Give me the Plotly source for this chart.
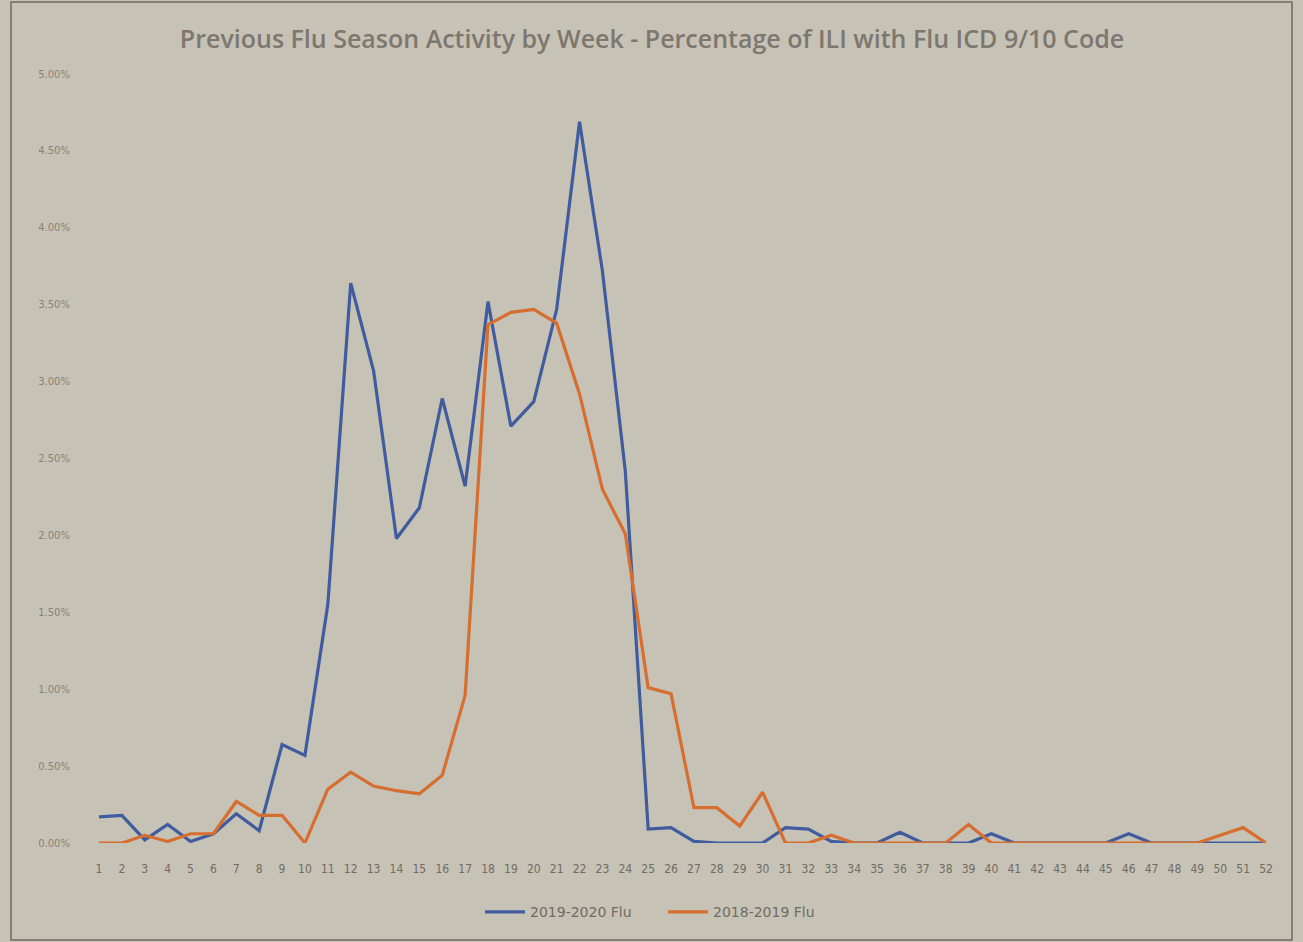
import plotly.graph_objects as go

weeks = list(range(1, 53))
week_labels = [str(w) for w in weeks]

flu_2019_2020 = [0.17, 0.18, 0.02, 0.12, 0.01, 0.06, 0.19, 0.08, 0.64, 0.57,
                 1.55, 3.64, 3.07, 1.98, 2.18, 2.89, 2.32, 3.52, 2.71, 2.87,
                 3.47, 4.69, 3.72, 2.42, 0.09, 0.10, 0.01, 0.0, 0.0, 0.0,
                 0.10, 0.09, 0.01, 0.0, 0.0, 0.07, 0.0, 0.0, 0.0, 0.06,
                 0.0, 0.0, 0.0, 0.0, 0.0, 0.06, 0.0, 0.0, 0.0, 0.0, 0.0, 0.0]

flu_2018_2019 = [0.0, 0.0, 0.05, 0.01, 0.06, 0.06, 0.27, 0.18, 0.18, 0.0,
                 0.35, 0.46, 0.37, 0.34, 0.32, 0.44, 0.96, 3.37, 3.45, 3.47,
                 3.38, 2.92, 2.30, 2.01, 1.01, 0.97, 0.23, 0.23, 0.11, 0.33,
                 0.0, 0.0, 0.05, 0.0, 0.0, 0.0, 0.0, 0.0, 0.12, 0.0,
                 0.0, 0.0, 0.0, 0.0, 0.0, 0.0, 0.0, 0.0, 0.0, 0.05, 0.10, 0.0]

y_ticks = [0, 0.5, 1.0, 1.5, 2.0, 2.5, 3.0, 3.5, 4.0, 4.5, 5.0]
y_tick_labels = [f"{v:.2f}%" for v in y_ticks]

series_names = ["2019-2020 Flu", "2018-2019 Flu"]

BG = "rgb(199,194,182)"
TXT = "rgb(112,107,99)"

fig = go.Figure()
fig.add_trace(go.Scatter(x=weeks, y=flu_2019_2020, mode="lines", name=series_names[0],
                         line=dict(color="rgb(64,92,158)", width=3.2)))
fig.add_trace(go.Scatter(x=weeks, y=flu_2018_2019, mode="lines", name=series_names[1],
                         line=dict(color="rgb(214,110,48)", width=3.2)))

fig.update_layout(
    width=1303, height=942,
    paper_bgcolor=BG, plot_bgcolor=BG,
    margin=dict(l=99, r=37, t=74, b=99),
    title=dict(text="Previous Flu Season Activity by Week - Percentage of ILI with Flu ICD 9/10 Code",
               x=652 / 1303, xref="container", xanchor="center", y=1 - 39 / 942, yanchor="middle",
               font=dict(family="Open Sans, Lato, sans-serif", size=25, weight=600,
                         color="rgb(125,119,111)")),
    xaxis=dict(range=[1, 52], tickmode="array", tickvals=weeks, ticktext=week_labels,
               showgrid=False, zeroline=False, showline=False, ticks="",
               ticklabelstandoff=17,
               tickfont=dict(family="Liberation Sans Narrow, DejaVu Sans Condensed, sans-serif",
                             size=12, color=TXT)),
    yaxis=dict(range=[0, 5], tickmode="array", tickvals=y_ticks, ticktext=y_tick_labels,
               showgrid=False, zeroline=False, showline=False, ticks="",
               ticklabelstandoff=28,
               tickfont=dict(family="DejaVu Sans, sans-serif", size=10, color="rgb(135,130,122)")),
    legend=dict(orientation="h", x=(663 - 99) / 1167, xanchor="center", y=-0.09, yanchor="middle",
                bgcolor="rgba(0,0,0,0)", itemwidth=40,
                entrywidth=128, entrywidthmode="pixels",
                font=dict(family="DejaVu Sans, sans-serif", size=14, color=TXT)),
    showlegend=True,
)

# outer chart border
fig.add_shape(type="rect", xref="paper", yref="paper",
              x0=(11 - 99) / 1167, x1=(1292 - 99) / 1167,
              y0=(843 - 940) / 769, y1=(843 - 2) / 769,
              line=dict(color="rgb(110,106,98)", width=1.5), fillcolor="rgba(0,0,0,0)",
              layer="below")

fig.write_html("out.html", config={"displayModeBar": False},
               post_script="document.body.style.margin='0';document.body.style.background='rgb(199,194,182)';")
